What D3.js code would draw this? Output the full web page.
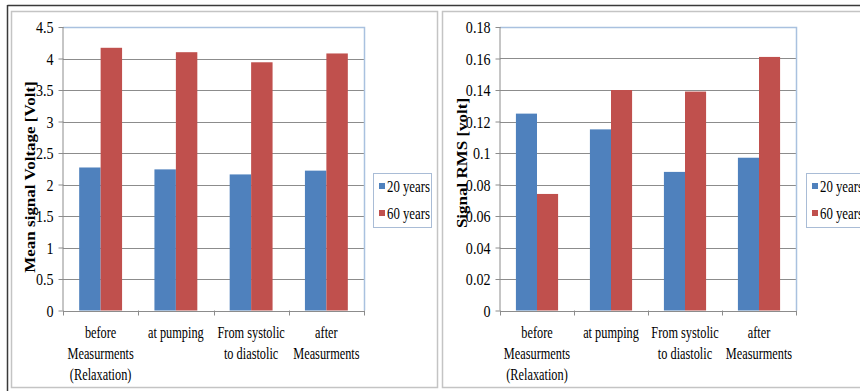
<!DOCTYPE html>
<html>
<head>
<meta charset="utf-8">
<script src="https://cdn.jsdelivr.net/npm/d3@7"></script>
<style>
  html, body { margin: 0; padding: 0; background: #fff; }
  svg { display: block; }
</style>
</head>
<body>
<svg id="chart" width="860" height="391"></svg>
<script>
// Measurement stages on the x axis
const categories = [
  "before\nMeasurments\n(Relaxation)",
  "at pumping",
  "From systolic\nto diastolic",
  "after\nMeasurments"
];
const seriesNames = ["20 years", "60 years"];

// Mean signal voltage [Volt]
const meanVoltage20 = [2.27, 2.24, 2.16, 2.22];
const meanVoltage60 = [4.17, 4.10, 3.94, 4.08];
const meanTicks = [0, 0.5, 1, 1.5, 2, 2.5, 3, 3.5, 4, 4.5];

// Signal RMS [volt]
const rms20 = [0.125, 0.115, 0.088, 0.097];
const rms60 = [0.074, 0.140, 0.139, 0.161];
const rmsTicks = [0, 0.02, 0.04, 0.06, 0.08, 0.1, 0.12, 0.14, 0.16, 0.18];

const colors = ["#4f81bd", "#c0504d"];
const SERIF = "Liberation Serif";

const svg = d3.select("#chart").attr("font-family", SERIF);

// page frame lines
svg.append("line").attr("x1", 7.5).attr("x2", 860).attr("y1", 5.5).attr("y2", 5.5)
  .attr("stroke", "#3a3a3a").attr("stroke-width", 1.5);
svg.append("line").attr("x1", 7.5).attr("x2", 7.5).attr("y1", 5).attr("y2", 391)
  .attr("stroke", "#3a3a3a").attr("stroke-width", 1.5);

// serif text narrowed horizontally
function squeezedText(g, x, y, str, opts) {
  return g.append("text")
    .attr("transform", `translate(${x},${y}) scale(${opts.sq},1)`)
    .attr("text-anchor", opts.anchor || "start")
    .attr("font-family", SERIF)
    .attr("font-size", opts.size)
    .attr("fill", "#000")
    .text(str);
}

function drawChart(cfg) {
  const g = svg.append("g");

  // chart frame
  g.append("rect")
    .attr("x", cfg.frame[0]).attr("y", cfg.frame[1])
    .attr("width", cfg.frame[2]).attr("height", cfg.frame[3])
    .attr("fill", "#fff").attr("stroke", "#c4c4c4").attr("stroke-width", 1.5);

  const left = cfg.plot[0], right = cfg.plot[1], top = cfg.plot[2], bottom = cfg.plot[3];

  const y = d3.scaleLinear().domain([0, cfg.ticks[cfg.ticks.length - 1]]).range([bottom, top]);
  const p = 0.43;
  const x0 = d3.scaleBand().domain(categories).range([left, right])
    .paddingInner(p).paddingOuter(p / 2);
  const x1 = d3.scaleBand().domain(seriesNames).range([0, x0.bandwidth()]);

  // gridlines
  g.append("g").selectAll("line").data(cfg.ticks.slice(1, -1)).join("line")
    .attr("x1", left).attr("x2", right)
    .attr("y1", d => Math.round(y(d)) + 0.5).attr("y2", d => Math.round(y(d)) + 0.5)
    .attr("stroke", "#8c8c8c").attr("stroke-width", 1);

  // plot-area border (top and right)
  g.append("path")
    .attr("d", `M${left},${Math.round(top) + 0.5}H${right + 0.5}V${bottom}`)
    .attr("fill", "none").attr("stroke", "#a9c1df").attr("stroke-width", 1.5);

  // bars
  const rows = categories.map((c, i) => ({ cat: c, vals: [cfg.s1[i], cfg.s2[i]] }));
  g.append("g").selectAll("g").data(rows).join("g")
    .attr("transform", d => `translate(${x0(d.cat)},0)`)
    .selectAll("rect").data(d => d.vals.map((v, j) => ({ name: seriesNames[j], v, j })))
    .join("rect")
    .attr("x", d => x1(d.name))
    .attr("width", x1.bandwidth())
    .attr("y", d => y(d.v))
    .attr("height", d => y(0) - y(d.v))
    .attr("fill", d => colors[d.j]);

  // y axis
  const TSQ = 0.88;
  const yAxis = g.append("g").attr("transform", `translate(${left + 0.5},0)`)
    .call(d3.axisLeft(y).tickValues(cfg.ticks).tickSize(5).tickPadding(5)
      .tickFormat(d => d3.format("~g")(d)));
  yAxis.attr("font-family", SERIF);
  yAxis.select(".domain").attr("stroke", "#8c8c8c").attr("d", `M-0.5,${top}V${bottom}`);
  yAxis.selectAll(".tick line").attr("stroke", "#8c8c8c");
  yAxis.selectAll(".tick text")
    .attr("font-family", SERIF).attr("font-size", 16).attr("fill", "#000")
    .attr("dy", "0.35em")
    .attr("x", -10 / TSQ)
    .attr("transform", `scale(${TSQ},1)`);

  // x axis line and category separator ticks
  g.append("line").attr("x1", left).attr("x2", right + 1)
    .attr("y1", Math.round(bottom) + 0.5).attr("y2", Math.round(bottom) + 0.5)
    .attr("stroke", "#8c8c8c");
  const seps = categories.map(c => x0(c) - x0.step() * p / 2).concat([right]);
  g.append("g").selectAll("line").data(seps).join("line")
    .attr("x1", d => Math.round(d) + 0.5).attr("x2", d => Math.round(d) + 0.5)
    .attr("y1", bottom).attr("y2", bottom + 5)
    .attr("stroke", "#8c8c8c");

  // category labels
  categories.forEach(c => {
    const cx = x0(c) + x0.bandwidth() / 2;
    c.split("\n").forEach((line, k) => {
      squeezedText(g, cx, 338 + k * 21, line, { anchor: "middle", size: 16, sq: 0.77 });
    });
  });

  // y axis title
  g.append("text")
    .attr("transform", `translate(${cfg.titleX},${cfg.titleY}) rotate(-90) scale(1,0.85)`)
    .attr("text-anchor", "middle")
    .attr("font-family", SERIF)
    .attr("font-weight", "bold")
    .attr("font-size", cfg.titleSize)
    .text(cfg.title);

  // legend
  const lg = g.append("g");
  lg.append("rect")
    .attr("x", cfg.legend[0] + 0.5).attr("y", 173.5)
    .attr("width", cfg.legend[1]).attr("height", 54)
    .attr("fill", "#fff").attr("stroke", "#a9bcd6").attr("stroke-width", 1);
  seriesNames.forEach((name, i) => {
    const yy = 192 + i * 27;
    lg.append("rect")
      .attr("x", cfg.legend[0] + 6).attr("y", yy - 9)
      .attr("width", 6).attr("height", 6)
      .attr("fill", colors[i]);
    squeezedText(lg, cfg.legend[0] + 14, yy, name, { size: 16, sq: 0.8 });
  });
}

drawChart({
  frame: [11.5, 11.5, 426, 376],
  plot: [63, 364, 27, 310.5],
  ticks: meanTicks,
  s1: meanVoltage20, s2: meanVoltage60,
  title: "Mean signal Voltage [Volt]",
  titleX: 35, titleY: 177, titleSize: 17,
  legend: [373, 58]
});

drawChart({
  frame: [442.5, 11.5, 430, 376],
  plot: [500, 796, 27, 310.5],
  ticks: rmsTicks,
  s1: rms20, s2: rms60,
  title: "Signal RMS [volt]",
  titleX: 467, titleY: 163, titleSize: 17,
  legend: [806, 70]
});
</script>
</body>
</html>
